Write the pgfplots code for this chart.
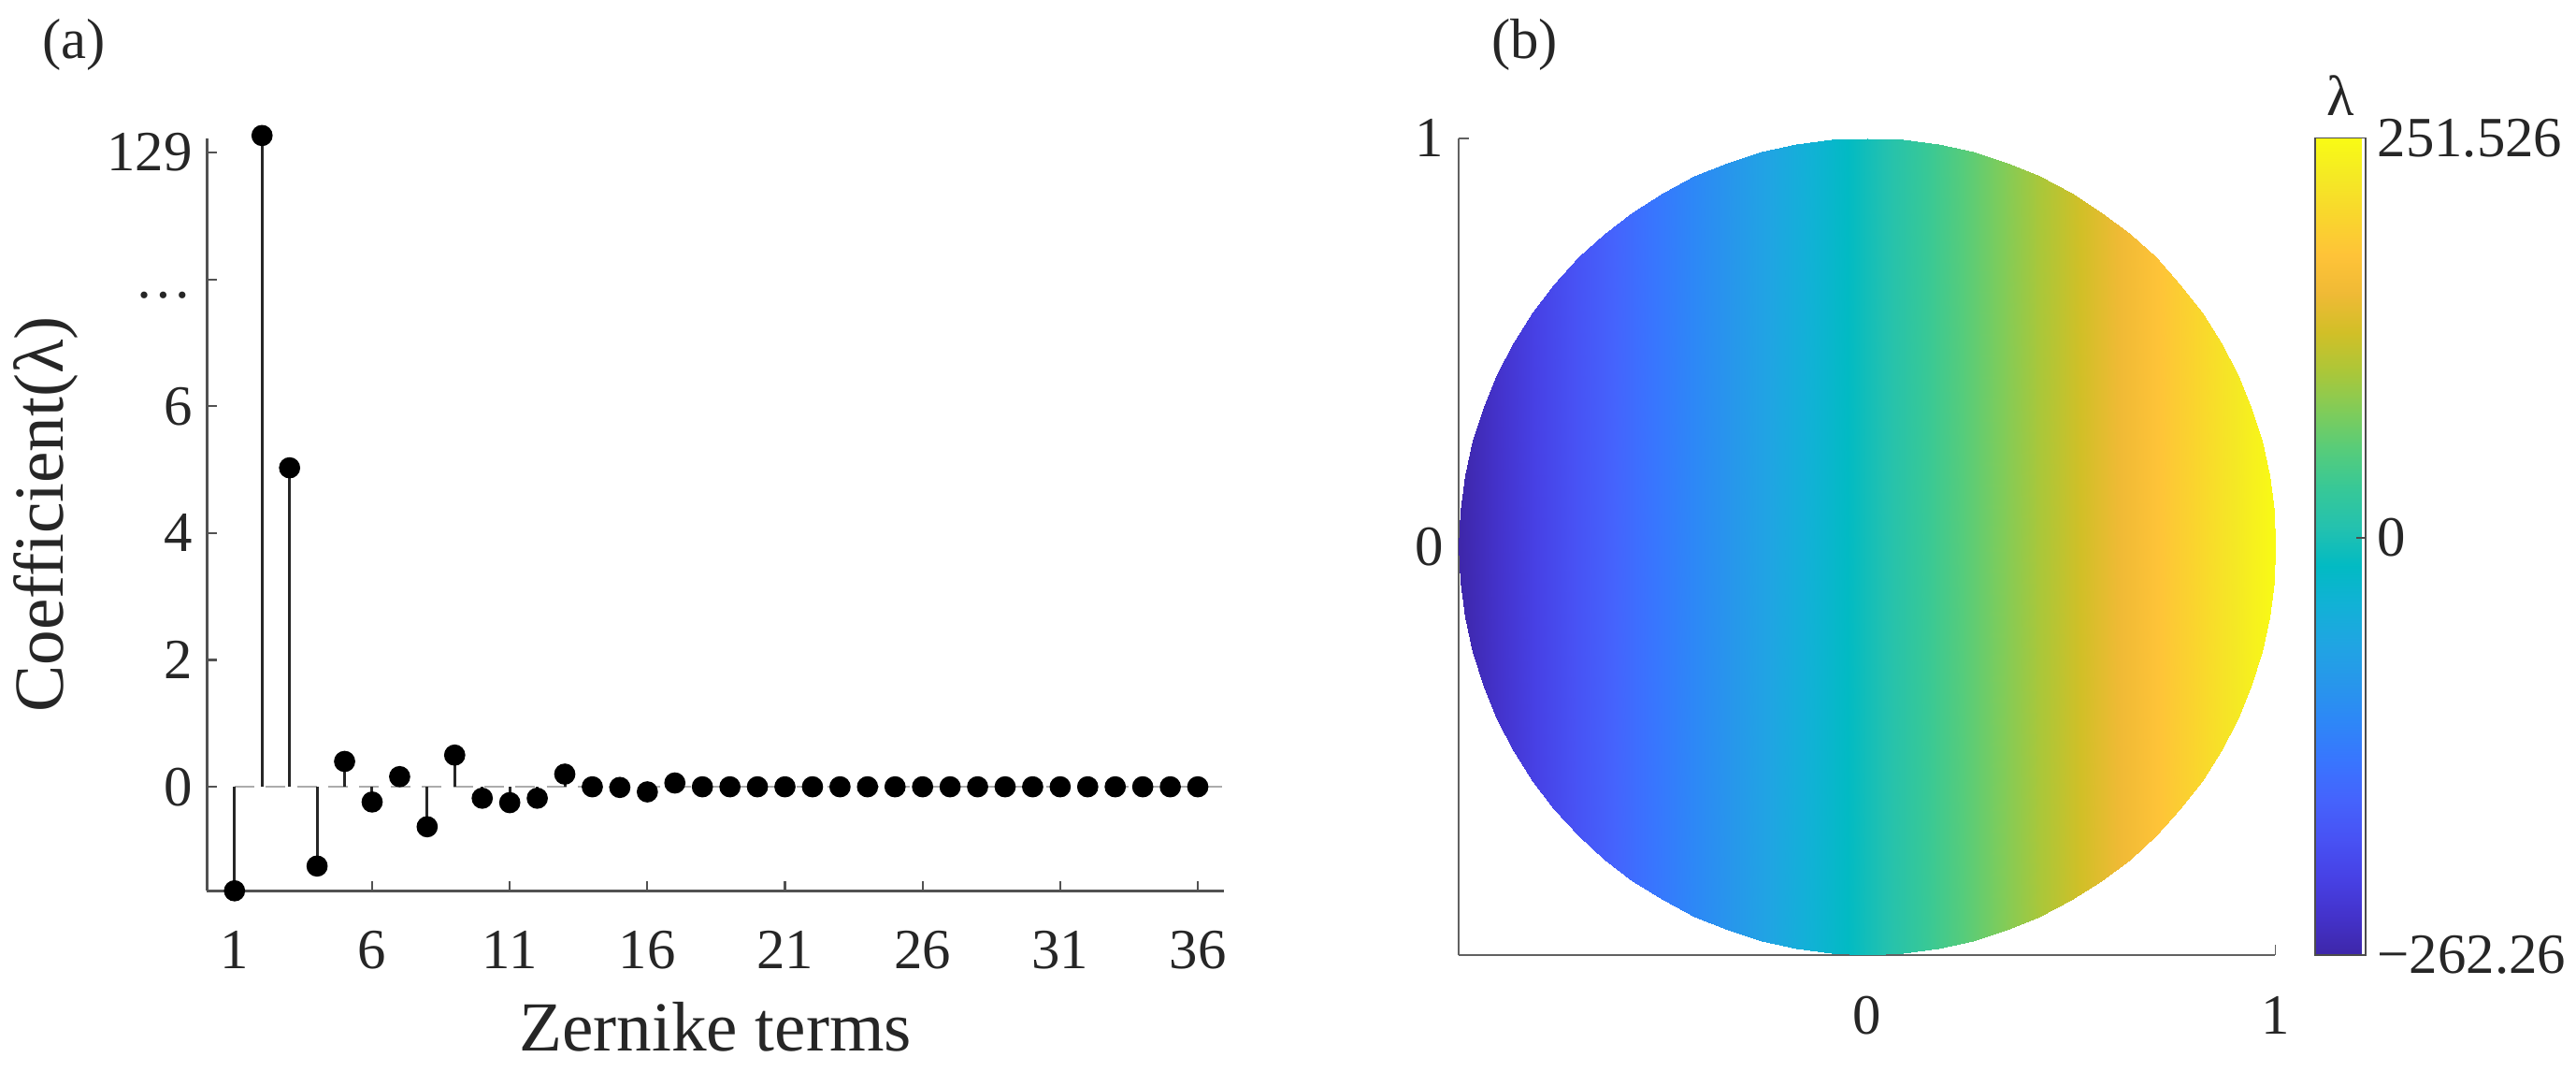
\documentclass[border=0pt]{standalone}
\usepackage{pgfplots}
\pgfplotsset{compat=1.18}
\usepackage{pgfplotstable}
\usepackage{fontspec}
\setmainfont{Liberation Serif}

\pgfplotsset{
  colormap={parula}{
    rgb=(0.2422,0.1504,0.6603) rgb=(0.2647,0.1978,0.7952) rgb=(0.2783,0.2559,0.8991)
    rgb=(0.2810,0.3228,0.9579) rgb=(0.2699,0.3892,0.9906) rgb=(0.2206,0.4603,0.9973)
    rgb=(0.1786,0.5289,0.9682) rgb=(0.1540,0.5902,0.9218) rgb=(0.1248,0.6459,0.8883)
    rgb=(0.0689,0.6948,0.8394) rgb=(0.0067,0.7312,0.7660) rgb=(0.1408,0.7584,0.6842)
    rgb=(0.2161,0.7843,0.5923) rgb=(0.3406,0.8008,0.4789) rgb=(0.5044,0.7993,0.3480)
    rgb=(0.6720,0.7793,0.2227) rgb=(0.8203,0.7498,0.1535) rgb=(0.9393,0.7288,0.2100)
    rgb=(0.9970,0.7659,0.2199) rgb=(0.9786,0.8386,0.1766) rgb=(0.9597,0.9135,0.1423)
    rgb=(0.9769,0.9839,0.0805)
  },
}

% Zernike coefficients (term 2 = 129 drawn on the broken axis at tick position 10)
\pgfplotstableread{
n   c
1  -1.64
2  10.27
3   5.03
4  -1.25
5   0.40
6  -0.24
7   0.16
8  -0.63
9   0.50
10 -0.18
11 -0.25
12 -0.18
13  0.20
14  0.00
15 -0.01
16 -0.08
17  0.06
18  0
19  0
20  0
21  0
22  0
23  0
24  0
25  0
26  0
27  0
28  0
29  0
30  0
31  0
32  0
33  0
34  0
35  0
36  0
}\coeffs

% wavefront on the unit disk: two edge rows (bottom, top), value in lambda
\pgfplotstableread{
x y c
-1 0 -262.260
-0.99619 -0.08716 -261.281
-0.98481 -0.17365 -258.358
-0.96593 -0.25882 -253.508
-0.93969 -0.34202 -246.766
-0.90631 -0.42262 -238.192
-0.86603 -0.5 -227.844
-0.81915 -0.57358 -215.801
-0.76604 -0.64279 -202.157
-0.70711 -0.70711 -187.018
-0.64279 -0.76604 -170.495
-0.57358 -0.81915 -152.715
-0.5 -0.86603 -133.814
-0.42262 -0.90631 -113.935
-0.34202 -0.93969 -93.230
-0.25882 -0.96593 -71.855
-0.17365 -0.98481 -49.976
-0.08716 -0.99619 -27.757
0 -1 -5.367
0.08716 -0.99619 17.023
0.17365 -0.98481 39.242
0.25882 -0.96593 61.121
0.34202 -0.93969 82.496
0.42262 -0.90631 103.201
0.5 -0.86603 123.080
0.57358 -0.81915 141.981
0.64279 -0.76604 159.761
0.70711 -0.70711 176.284
0.76604 -0.64279 191.423
0.81915 -0.57358 205.067
0.86603 -0.5 217.110
0.90631 -0.42262 227.458
0.93969 -0.34202 236.032
0.96593 -0.25882 242.774
0.98481 -0.17365 247.624
0.99619 -0.08716 250.547
1 0 251.526
-1 0 -262.260
-0.99619 0.08716 -261.281
-0.98481 0.17365 -258.358
-0.96593 0.25882 -253.508
-0.93969 0.34202 -246.766
-0.90631 0.42262 -238.192
-0.86603 0.5 -227.844
-0.81915 0.57358 -215.801
-0.76604 0.64279 -202.157
-0.70711 0.70711 -187.018
-0.64279 0.76604 -170.495
-0.57358 0.81915 -152.715
-0.5 0.86603 -133.814
-0.42262 0.90631 -113.935
-0.34202 0.93969 -93.230
-0.25882 0.96593 -71.855
-0.17365 0.98481 -49.976
-0.08716 0.99619 -27.757
0 1 -5.367
0.08716 0.99619 17.023
0.17365 0.98481 39.242
0.25882 0.96593 61.121
0.34202 0.93969 82.496
0.42262 0.90631 103.201
0.5 0.86603 123.080
0.57358 0.81915 141.981
0.64279 0.76604 159.761
0.70711 0.70711 176.284
0.76604 0.64279 191.423
0.81915 0.57358 205.067
0.86603 0.5 217.110
0.90631 0.42262 227.458
0.93969 0.34202 236.032
0.96593 0.25882 242.774
0.98481 0.17365 247.624
0.99619 0.08716 250.547
1 0 251.526
}\disk

\newcommand{\tickfont}{\fontsize{17.3}{20}\selectfont}
\newcommand{\labfont}{\fontsize{21.4}{24}\selectfont}

\begin{document}
\begin{tikzpicture}
% ---------------- (a) ----------------
\begin{axis}[
  at={(63pt,55pt)}, anchor=south west,
  scale only axis, width=309.5pt, height=229pt,
  xmin=0, xmax=36.95, ymin=-1.64, ymax=10.23,
  axis x line*=bottom, axis y line*=left,
  axis line style={black!68, line width=0.9pt, -},
  xtick={1,6,...,36}, ytick={0,2,4,6,8,10},
  yticklabels={0,2,4,6,\vphantom{0}…,129},
  tick align=inside, major tick length=3pt,
  tick style={black!68, line width=0.6pt},
  ticklabel style={font=\tickfont, text=black!85},
  /pgf/number format/assume math mode=true,
  xticklabel style={anchor=center, yshift=-18pt},
  yticklabel style={anchor=east, xshift=-1pt},
  xlabel={Zernike terms}, ylabel={Coefficient(λ)},
  label style={font=\labfont, text=black!85},
  xlabel style={at={(axis description cs:0.5,-0.1812)}, anchor=center},
  ylabel style={at={(axis description cs:-0.1583,0.5)}, anchor=center},
  clip=false,
]
\addplot[gray!65, dash pattern=on 6pt off 3.5pt, line width=0.6pt, forget plot]
  coordinates {(1,0) (36.9,0)};
\addplot[ycomb, black!85, line width=0.85pt, mark=*, mark size=2.8pt,
  mark options={fill=black, draw=black, solid}] table[x=n, y=c] {\coeffs};
\end{axis}

% ---------------- (b) ----------------
\begin{axis}[
  at={(444pt,35.5pt)}, anchor=south west,
  scale only axis, width=248.5pt, height=248.5pt,
  xmin=-1, xmax=1, ymin=-1, ymax=1,
  axis x line*=bottom, axis y line*=left,
  axis line style={black!62, line width=0.55pt, -},
  xtick={0,1}, ytick={0,1},
  tick align=inside, major tick length=3pt,
  tick style={black!62, line width=0.55pt},
  ticklabel style={font=\tickfont, text=black!85},
  /pgf/number format/assume math mode=true,
  xticklabel style={anchor=center, yshift=-18.5pt},
  yticklabel style={anchor=east, xshift=-1pt},
  colormap name=parula,
  point meta min=-262.26, point meta max=251.526,
  colorbar,
  colorbar style={
    at={(parent axis.north east)}, anchor=north west, xshift=3.5pt,
    width=15.5pt,
    ytick={-262.26,0,251.526},
    yticklabels={−262.26,0,251.526},
    yticklabel style={font=\tickfont, text=black!85},
    ytick pos=right, tick align=inside, major tick length=3pt,
    tick style={black!70, line width=0.5pt},
    axis line style={black!70, line width=0.5pt},
    title={λ},
    title style={font=\tickfont, text=black!85, at={(0.5,1)}, anchor=center, yshift=7pt},
  },
]
\addplot[surf, shader=interp, mesh/rows=2, point meta=explicit]
  table[x=x, y=y, meta=c] {\disk};
\end{axis}

\node[font=\tickfont, text=black!85] at (22.5pt,312.5pt) {(a)};
\node[font=\tickfont, text=black!85] at (464pt,312.5pt) {(b)};

\pgfresetboundingbox
\path (0,0) rectangle (784pt,326pt);
\end{tikzpicture}
\end{document}
